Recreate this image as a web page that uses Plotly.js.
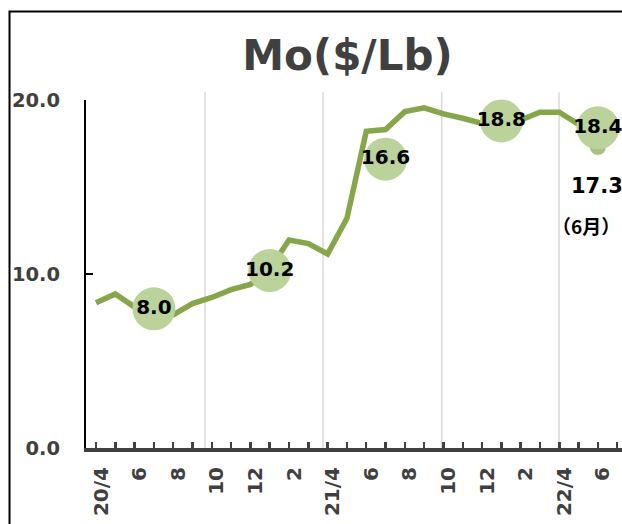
<!DOCTYPE html>
<html>
<head>
<meta charset="utf-8">
<script src="https://cdn.plot.ly/plotly-3.0.1.min.js"></script>
<style>html,body{margin:0;padding:0;background:#fff;}#chart{width:622px;height:524px;}</style>
</head>
<body>
<div id="chart"></div>
<script>
// Monthly index: 0 = 2020/4 ... 26 = 2022/6
const monthIndex = [0,1,2,3,4,5,6,7,8,9,10,11,12,13,14,15,16,17,18,19,20,21,22,23,24,25,26];
const moPrice = [8.35,8.85,8.1,7.9,7.65,8.3,8.65,9.1,9.4,10.3,11.95,11.75,11.15,13.2,18.2,18.3,19.33,19.55,19.2,18.95,18.65,18.75,18.85,19.3,19.3,18.6,17.3];
const bubbleIndex = [3,9,15,21,26];
const bubbleValues = [8.0,10.2,16.6,18.8,18.4];
const tickIndex = [0,2,4,6,8,10,12,14,16,18,20,22,24,26];
const tickLabels = ['20/4','6','8','10','12','2','21/4','6','8','10','12','2','22/4','6'];
const lastNote = '（6月）';

const FONT = 'DejaVu Sans, Verdana, sans-serif';
const lineColor = '#86A64A';
const bubbleColor = '#BBD39B';
const last = monthIndex.length - 1;

const traces = [
  {
    x: monthIndex, y: moPrice, type: 'scatter', mode: 'lines+markers',
    line: {color: lineColor, width: 5.5},
    marker: {color: lineColor, size: monthIndex.map((d,i)=> i===last ? 17 : 0)},
    hoverinfo: 'skip', showlegend: false, cliponaxis: false
  },
  {
    x: bubbleIndex, y: bubbleValues, type: 'scatter', mode: 'markers+text',
    marker: {color: bubbleColor, size: 43, line: {width: 0}},
    texttemplate: '%{y:.1f}', textposition: 'middle center',
    textfont: {family: FONT, size: 20, color: '#000', weight: 'bold'},
    hoverinfo: 'skip', showlegend: false, cliponaxis: false
  }
];

const gridShapes = [5.65, 11.76, 17.91, 23.99].map(v => ({
  type: 'line', xref: 'x', yref: 'paper', x0: v, x1: v, y0: 0, y1: 1.022,
  line: {color: '#D9D9D9', width: 1.5}, layer: 'below'
}));

const layout = {
  width: 622, height: 524,
  margin: {l: 86, r: 0, t: 100, b: 76, pad: 0},
  paper_bgcolor: '#fff', plot_bgcolor: '#fff',
  font: {family: FONT},
  title: {
    text: 'Mo($/Lb)', x: 347.5/622, xanchor: 'center', xref: 'container',
    y: 1 - 55/524, yanchor: 'middle', yref: 'container',
    font: {family: FONT, size: 42, color: '#404040', weight: 'bold'}
  },
  xaxis: {
    range: [-0.518, 27.25], showgrid: false, zeroline: false,
    showline: true, linecolor: '#404040', linewidth: 4,
    tickmode: 'array', tickvals: tickIndex, ticktext: tickLabels,
    tickangle: -90, ticks: 'inside', ticklen: 6, tickwidth: 2.5, tickcolor: '#404040',
    ticklabelstandoff: 7, ticklabelshift: 5,
    tickfont: {family: FONT, size: 20, color: '#404040', weight: 'bold'},
    minor: {tickmode: 'linear', tick0: 0, dtick: 1, ticks: 'inside', ticklen: 6, tickwidth: 2.5, tickcolor: '#404040'}
  },
  yaxis: {
    range: [0, 20], showgrid: false, zeroline: false,
    showline: true, linecolor: '#000', linewidth: 2,
    tickmode: 'array', tickvals: [0, 10, 20], tickformat: '.1f',
    ticks: 'inside', ticklen: 7, tickwidth: 2, tickcolor: '#000',
    ticklabelstandoff: 20,
    tickfont: {family: FONT, size: 19.5, color: '#404040', weight: 'bold'}
  },
  shapes: gridShapes.concat([{
    type: 'rect', xref: 'paper', yref: 'paper',
    x0: -0.1427, x1: 1.3, y0: -0.4, y1: 1.2543,
    line: {color: '#000', width: 2}, fillcolor: 'rgba(0,0,0,0)', layer: 'above'
  }]),
  annotations: [
    {x: monthIndex[last], y: moPrice[last], xref: 'x', yref: 'y',
     text: moPrice[last].toFixed(1), showarrow: false, yshift: -39, xshift: -1,
     font: {family: FONT, size: 21, color: '#000', weight: 'bold'}},
    {x: monthIndex[last], y: moPrice[last], xref: 'x', yref: 'y',
     text: lastNote, showarrow: false, yshift: -79, xshift: -12,
     font: {family: 'Noto Sans CJK JP', size: 19, color: '#000', weight: 'bold'}}
  ]
};

Plotly.newPlot('chart', traces, layout, {staticPlot: true, displayModeBar: false});
</script>
</body>
</html>
